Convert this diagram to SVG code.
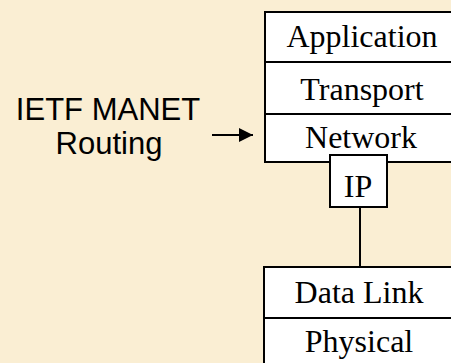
<svg xmlns="http://www.w3.org/2000/svg" width="451" height="363" viewBox="0 0 451 363">
<style>
.box{fill:#fff;stroke:#000;stroke-width:2}
.t{font-family:"Liberation Serif",serif;font-size:32px;text-anchor:middle;fill:#000}
.s{font-family:"Liberation Sans",sans-serif;font-size:31px;text-anchor:middle;fill:#000}
</style>
<defs>
<marker id="ah" markerWidth="14" markerHeight="14" refX="14" refY="7" orient="auto" markerUnits="userSpaceOnUse">
<path d="M0,0 L14,7 L0,14 Z" fill="#000"/>
</marker>
</defs>
<rect width="451" height="363" fill="#FAEED3"/>
<g id="label"><text class="s" x="108" y="120">IETF MANET</text><text class="s" x="109" y="154">Routing</text></g>
<g id="connectors">
<line x1="212" y1="135" x2="253" y2="135" stroke="#000" stroke-width="2" marker-end="url(#ah)"/>
<line x1="360" y1="208" x2="360" y2="267" stroke="#000" stroke-width="2"/>
</g>
<g id="application"><rect class="box" x="265" y="12" width="200" height="50"/><text class="t" x="362" y="47">Application</text></g>
<g id="transport"><rect class="box" x="265" y="62" width="200" height="52"/><text class="t" x="362" y="100">Transport</text></g>
<g id="network"><rect class="box" x="265" y="114" width="200" height="48"/><text class="t" x="361" y="148">Network</text></g>
<g id="ip"><rect class="box" x="330" y="155" width="57" height="52"/><text class="t" x="358" y="197">IP</text></g>
<g id="datalink"><rect class="box" x="264" y="267" width="200" height="51"/><text class="t" x="359" y="303">Data Link</text></g>
<g id="physical"><rect class="box" x="264" y="318" width="200" height="60"/><text class="t" x="359" y="352">Physical</text></g>
</svg>
